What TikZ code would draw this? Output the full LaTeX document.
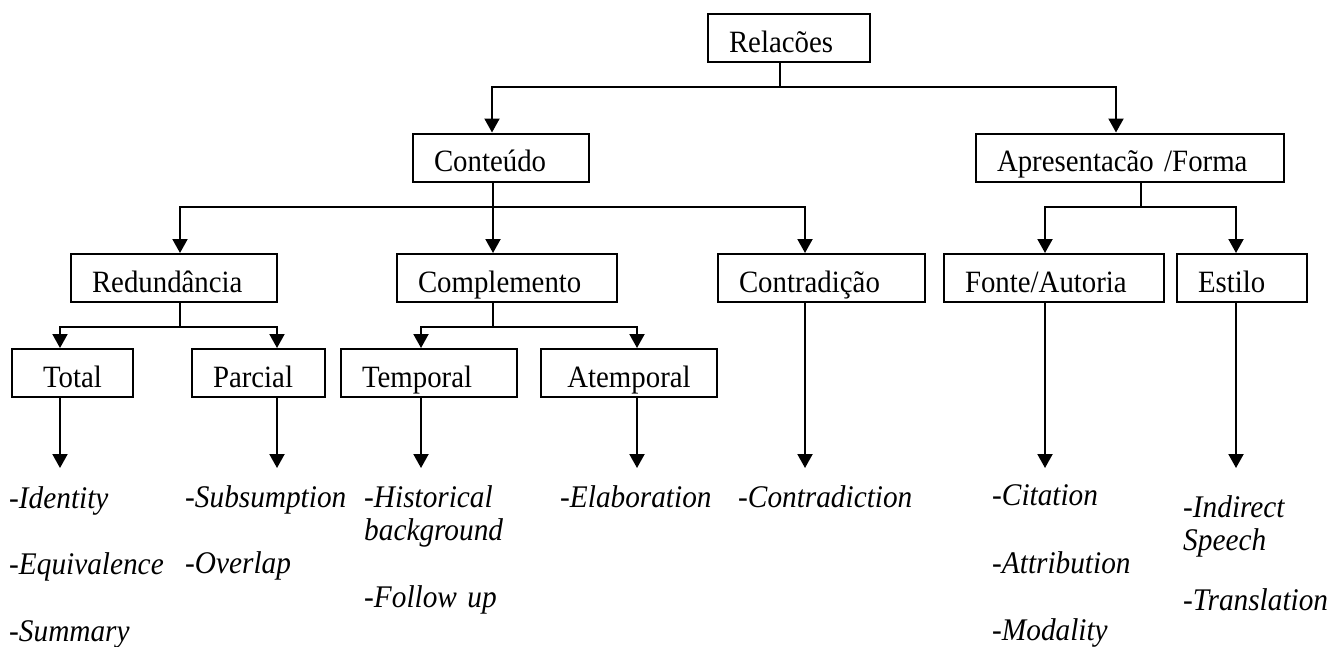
\documentclass[tikz,border=0pt]{standalone}
\usepackage{fontspec}
\setmainfont[FakeStretch=0.93]{Liberation Serif}
\usetikzlibrary{arrows.meta}

\begin{document}
\begin{tikzpicture}[x=1pt,y=-1pt,
    box/.style={draw,line width=2pt,text width=#1,align=left,inner xsep=21pt,inner ysep=0pt,
        text height=38pt,text depth=10pt,font=\fontsize{31}{33}\selectfont},
    leaf/.style={anchor=base west,inner sep=0pt,text width=#1,align=left,
        font=\fontsize{31.5}{33}\selectfont\itshape},
    link/.style={line width=2pt},
    arr/.style={line width=2pt,-{Triangle[length=14pt,width=15pt]}}]
\useasboundingbox (0,0) rectangle (1332,646);
                % boxes
                \node[box=120pt] (rel) at (789,38) {Relacões};
                \node[box=134pt] (cont) at (501,157.5) {Conteúdo};
                \node[box=266pt] (apr) at (1130,157.5) {Apresentacão /Forma};
                \node[box=164pt] (red) at (174,278) {Redundância};
                \node[box=178pt] (comp) at (507,278) {Complemento};
                \node[box=165pt] (contr) at (821.5,278) {Contradição};
                \node[box=178pt] (fonte) at (1054,278) {Fonte/Autoria};
                \node[box=88pt] (est) at (1242,278) {Estilo};
                \node[box=79pt,align=center] (total) at (72.5,373) {Total};
                \node[box=91pt] (parc) at (258.5,373) {Parcial};
                \node[box=134pt] (temp) at (429,373) {Temporal};
                \node[box=134pt,align=center] (atem) at (629,373) {Atemporal};
                % lists
                \node[leaf=165pt] (ltotal) at (9,508) {-Identity\\[33pt]-Equivalence\\[34pt]-Summary};
                \node[leaf=170pt] (lparc) at (185,507) {-Subsumption\\[33pt]-Overlap};
                \node[leaf=150pt] (ltemp) at (364,507) {-Historical\\background\\[34pt]-Follow up};
                \node[leaf=170pt] (latem) at (560,507) {-Elaboration};
                \node[leaf=200pt] (lcontr) at (738,507) {-Contradiction};
                \node[leaf=170pt] (lfonte) at (992,505) {-Citation\\[35pt]-Attribution\\[34pt]-Modality};
                \node[leaf=160pt] (lest) at (1183,517) {-Indirect\\Speech\\[27pt]-Translation};
                % arrow ends above the lists
                \coordinate (ttotal) at (60,468);
                \coordinate (tparc) at (277,468);
                \coordinate (ttemp) at (421,468);
                \coordinate (tatem) at (637,468);
                \coordinate (tcontr) at (805,468);
                \coordinate (tfonte) at (1045,468);
                \coordinate (testilo) at (1236,468);
                % tree
                \draw[arr] ([xshift=-9pt]rel.south) -- ++(0,24) -| ([xshift=-9pt]cont.north);
                \draw[arr] ([xshift=-9pt]rel.south) -- ++(0,24) -| ([xshift=-14pt]apr.north);
                \draw[arr] ([xshift=-8pt]cont.south) -- ++(0,24) -| ([xshift=6pt]red.north);
                \draw[arr] ([xshift=-8pt]cont.south) -- ([xshift=-14pt]comp.north);
                \draw[arr] ([xshift=-8pt]cont.south) -- ++(0,24) -| ([xshift=-16.5pt]contr.north);
                \draw[arr] ([xshift=11pt]apr.south) -- ++(0,24) -| ([xshift=-9pt]fonte.north);
                \draw[arr] ([xshift=11pt]apr.south) -- ++(0,24) -| ([xshift=-6pt]est.north);
                \draw[arr] ([xshift=6pt]red.south) -- ++(0,24) -| ([xshift=-12.5pt]total.north);
                \draw[arr] ([xshift=6pt]red.south) -- ++(0,24) -| ([xshift=18.5pt]parc.north);
                \draw[arr] ([xshift=-14pt]comp.south) -- ++(0,24) -| ([xshift=-8pt]temp.north);
                \draw[arr] ([xshift=-14pt]comp.south) -- ++(0,24) -| ([xshift=8pt]atem.north);
                % down to the lists
                \draw[arr] (total.south -| ttotal) -- (ttotal);
                \draw[arr] (parc.south -| tparc) -- (tparc);
                \draw[arr] (temp.south -| ttemp) -- (ttemp);
                \draw[arr] (atem.south -| tatem) -- (tatem);
                \draw[arr] (contr.south -| tcontr) -- (tcontr);
                \draw[arr] (fonte.south -| tfonte) -- (tfonte);
                \draw[arr] (est.south -| testilo) -- (testilo);
            \end{tikzpicture}
\end{document}
